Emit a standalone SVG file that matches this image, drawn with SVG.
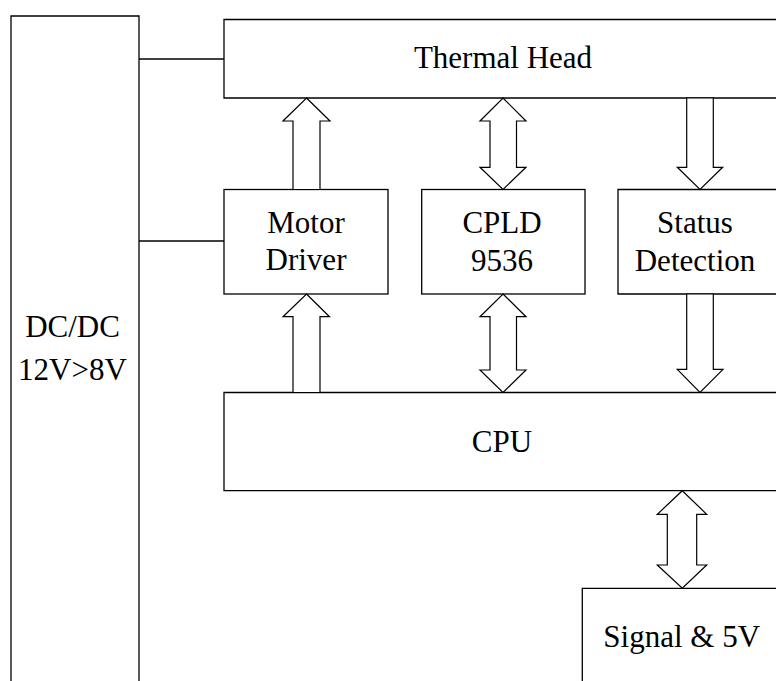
<svg xmlns="http://www.w3.org/2000/svg" width="776" height="681" viewBox="0 0 776 681">
<style>
.box{fill:#fff;stroke:#000;stroke-width:1.3}
.ln{fill:none;stroke:#000;stroke-width:1.3}
.arr{fill:#fff;stroke:#000;stroke-width:1.2;stroke-linejoin:miter}
</style>
<rect width="776" height="681" fill="#fff"/>
<g id="dcdc">
<path class="box" d="M11,700 V16 H139 V700"/>
<text font-family="Liberation Serif" font-size="31" text-anchor="middle" x="72.5" y="337">DC/DC</text>
<text font-family="Liberation Serif" font-size="31" text-anchor="middle" x="72.5" y="380">12V&gt;8V</text>
</g>
<g id="thermal-head">
<path class="box" d="M800,19.5 H224 V98 H800"/>
<text font-family="Liberation Serif" font-size="31" text-anchor="middle" x="503" y="68">Thermal Head</text>
</g>
<g id="motor-driver">
<rect class="box" x="224" y="189.5" width="164" height="104.5"/>
<text font-family="Liberation Serif" font-size="31" text-anchor="middle" x="306" y="233">Motor</text>
<text font-family="Liberation Serif" font-size="31" text-anchor="middle" x="306" y="270">Driver</text>
</g>
<g id="cpld">
<rect class="box" x="421.7" y="189.5" width="163.3" height="104.5"/>
<text font-family="Liberation Serif" font-size="31" text-anchor="middle" x="502" y="233">CPLD</text>
<text font-family="Liberation Serif" font-size="31" text-anchor="middle" x="502" y="271">9536</text>
</g>
<g id="status-detection">
<path class="box" d="M800,189.5 H618 V294 H800"/>
<text font-family="Liberation Serif" font-size="31" text-anchor="middle" x="695" y="233">Status</text>
<text font-family="Liberation Serif" font-size="31" text-anchor="middle" x="695" y="271">Detection</text>
</g>
<g id="cpu">
<path class="box" d="M800,392.5 H224 V490.7 H800"/>
<text font-family="Liberation Serif" font-size="31" text-anchor="middle" x="502" y="451.5">CPU</text>
</g>
<g id="signal-5v">
<path class="box" d="M582.3,700 V588.3 H800"/>
<text font-family="Liberation Serif" font-size="31" text-anchor="middle" x="681.7" y="646.5">Signal &amp; 5V</text>
</g>
<g id="connectors">
<line class="ln" x1="139" y1="59" x2="224" y2="59"/>
<line class="ln" x1="139" y1="241" x2="224" y2="241"/>
<polygon class="arr" points="306.5,98 330,121 320,121 320,189.5 293,189.5 293,121 283,121"/>
<polygon class="arr" points="306.5,294 329.5,316.7 320,316.7 320,392.5 293,392.5 293,316.7 283,316.7"/>
<polygon class="arr" points="503,98 526,121 516.5,121 516.5,167.3 526,167.3 503,189.5 480,167.3 490,167.3 490,121 480,121"/>
<polygon class="arr" points="503,294 526,316.7 516.5,316.7 516.5,370 526,370 503,392.5 480,370 490,370 490,316.7 480,316.7"/>
<polygon class="arr" points="686.7,98 713.3,98 713.3,167.3 722.7,167.3 700,189.5 677.3,167.3 686.7,167.3"/>
<polygon class="arr" points="686.7,294 713.3,294 713.3,369.3 723,369.3 700,392.5 677.3,369.3 686.7,369.3"/>
<polygon class="arr" points="682.3,490.7 706.7,514.3 696.7,514.3 696.7,565 706.7,565 682.3,588.3 657.3,565 667.3,565 667.3,514.3 657.3,514.3"/>
</g>
</svg>
